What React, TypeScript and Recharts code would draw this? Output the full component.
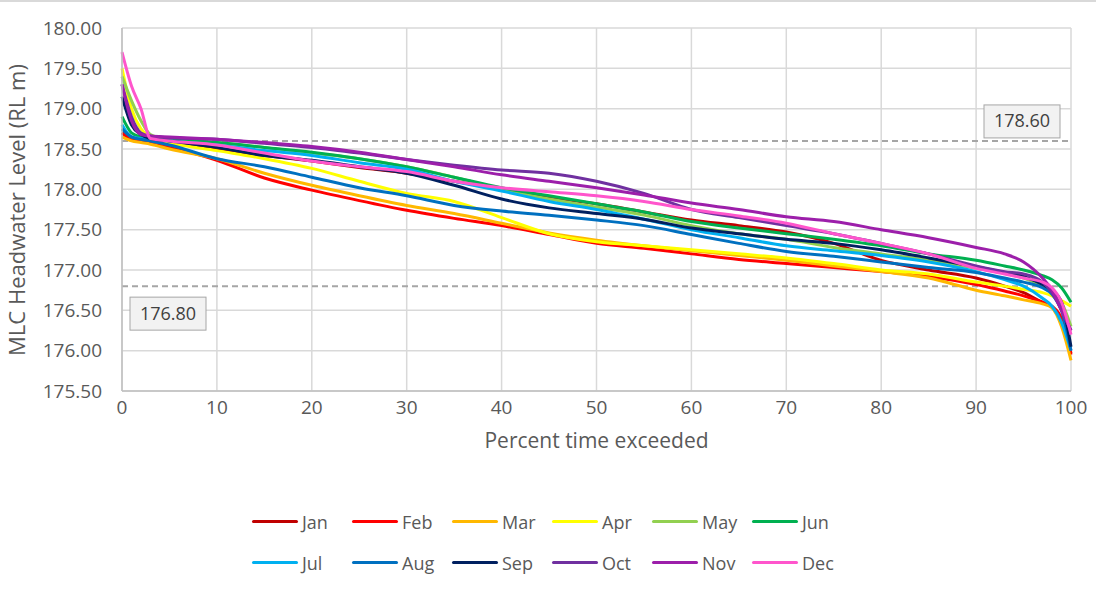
import React from "react";
import {
  LineChart,
  Line,
  XAxis,
  YAxis,
  CartesianGrid,
  ReferenceLine,
  Legend,
} from "recharts";

// percent of time exceeded (x)
const pct = [0, 1, 2, 3, 5, 10, 15, 20, 25, 30, 35, 40, 45, 50, 55, 60, 65, 70, 75, 80, 85, 90, 93, 95, 97, 98, 99, 100];

const jan = [178.7, 178.63, 178.61, 178.6, 178.57, 178.5, 178.42, 178.35, 178.27, 178.2, 178.1, 178.0, 177.9, 177.82, 177.72, 177.62, 177.55, 177.47, 177.33, 177.12, 177.0, 176.9, 176.8, 176.72, 176.6, 176.55, 176.35, 175.97];
const feb = [178.7, 178.62, 178.6, 178.57, 178.52, 178.36, 178.14, 177.99, 177.86, 177.74, 177.64, 177.55, 177.44, 177.33, 177.27, 177.2, 177.13, 177.08, 177.03, 176.98, 176.92, 176.82, 176.74, 176.68, 176.6, 176.55, 176.4, 175.95];
const mar = [178.65, 178.6, 178.58, 178.56, 178.5, 178.38, 178.2, 178.05, 177.92, 177.8, 177.7, 177.58, 177.46, 177.37, 177.3, 177.24, 177.18, 177.12, 177.05, 176.98, 176.9, 176.75, 176.68, 176.63, 176.58, 176.53, 176.3, 175.88];
const apr = [179.5, 179.0, 178.75, 178.65, 178.58, 178.48, 178.38, 178.26, 178.1, 177.95, 177.85, 177.65, 177.45, 177.35, 177.3, 177.25, 177.2, 177.15, 177.08, 177.0, 176.95, 176.85, 176.8, 176.76, 176.72, 176.68, 176.62, 176.55];
const may = [179.4, 179.1, 178.85, 178.68, 178.62, 178.58, 178.52, 178.45, 178.38, 178.28, 178.15, 178.0, 177.88, 177.78, 177.68, 177.55, 177.45, 177.38, 177.28, 177.2, 177.12, 177.02, 176.96, 176.9, 176.8, 176.72, 176.6, 176.3];
const jun = [178.9, 178.7, 178.65, 178.63, 178.62, 178.58, 178.52, 178.46, 178.38, 178.28, 178.15, 178.02, 177.92, 177.82, 177.72, 177.6, 177.52, 177.45, 177.38, 177.3, 177.2, 177.12, 177.05, 177.0, 176.93, 176.88, 176.78, 176.6];
const jul = [178.8, 178.65, 178.63, 178.62, 178.6, 178.55, 178.48, 178.42, 178.33, 178.25, 178.1, 177.98, 177.85, 177.75, 177.63, 177.5, 177.4, 177.3, 177.24, 177.18, 177.1, 176.98, 176.88, 176.8, 176.65, 176.55, 176.35, 176.0];
const aug = [178.75, 178.65, 178.62, 178.6, 178.55, 178.38, 178.28, 178.15, 178.02, 177.92, 177.8, 177.73, 177.68, 177.62, 177.55, 177.44, 177.33, 177.23, 177.17, 177.1, 177.03, 176.97, 176.9, 176.85, 176.78, 176.7, 176.5, 176.0];
const sep = [179.15, 178.8, 178.68, 178.63, 178.6, 178.52, 178.42, 178.36, 178.28, 178.2, 178.05, 177.88, 177.77, 177.7, 177.63, 177.52, 177.45, 177.38, 177.33, 177.25, 177.15, 177.04, 176.97, 176.92, 176.82, 176.75, 176.6, 176.05];
const oct = [179.3, 178.9, 178.7, 178.66, 178.64, 178.62, 178.57, 178.52, 178.45, 178.37, 178.3, 178.24, 178.2, 178.1, 177.95, 177.75, 177.65, 177.55, 177.45, 177.33, 177.2, 177.05, 176.98, 176.95, 176.85, 176.72, 176.5, 176.25];
const nov = [179.3, 178.85, 178.68, 178.66, 178.65, 178.62, 178.58, 178.53, 178.46, 178.37, 178.28, 178.18, 178.1, 178.02, 177.93, 177.83, 177.75, 177.66, 177.6, 177.5, 177.4, 177.28, 177.2, 177.1, 176.9, 176.75, 176.5, 176.25];
const dec = [179.7, 179.28, 179.0, 178.63, 178.6, 178.55, 178.45, 178.35, 178.28, 178.22, 178.1, 178.02, 177.97, 177.92, 177.85, 177.75, 177.67, 177.58, 177.45, 177.33, 177.2, 177.02, 176.95, 176.9, 176.85, 176.78, 176.6, 176.2];

const months = ["Jan", "Feb", "Mar", "Apr", "May", "Jun", "Jul", "Aug", "Sep", "Oct", "Nov", "Dec"];
const series = [jan, feb, mar, apr, may, jun, jul, aug, sep, oct, nov, dec];
const colors = ["#C00000", "#FF0000", "#FFB800", "#FFFF00", "#92D050", "#00B050", "#00B0F0", "#0070C0", "#002060", "#7030A0", "#9C1FAA", "#FF55CC"];

const yTicks = [175.5, 176, 176.5, 177, 177.5, 178, 178.5, 179, 179.5, 180];
const xTicks = [0, 10, 20, 30, 40, 50, 60, 70, 80, 90, 100];
const upperLimit = 178.6;
const lowerLimit = 176.8;

const data = pct.map((p, i) => {
  const row: any = { p };
  months.forEach((m, k) => (row[m] = series[k][i]));
  return row;
});

const FONT = "'Open Sans', sans-serif";
const TEXT = "#595959";

const BoxLabel = ({ viewBox, text, side }: any) => {
  const w = 76;
  const h = 33;
  const x = side === "right" ? viewBox.x + viewBox.width - w - 11 : viewBox.x + 8;
  const y = side === "right" ? viewBox.y - h - 3 : viewBox.y + 11;
  return (
    <g>
      <rect x={x} y={y} width={w} height={h} fill="#F2F2F2" stroke="#A6A6A6" strokeWidth={1} />
      <text x={x + w / 2} y={y + h / 2 + 6} textAnchor="middle" fontSize={18} fontFamily={FONT} fill="#404040">
        {text}
      </text>
    </g>
  );
};

const YTitle = () => (
  <text
    x={0}
    y={0}
    transform="translate(25, 210) rotate(-90)"
    textAnchor="middle"
    fontSize={22}
    fontFamily={FONT}
    fill={TEXT}
  >
    MLC Headwater Level (RL m)
  </text>
);

const LegendBox = () => (
  <div style={{ width: 600, marginLeft: 252, fontFamily: FONT, fontSize: 18, color: TEXT }}>
    {[0, 1].map((r) => (
      <div key={r} style={{ display: "flex", height: 41, alignItems: "center" }}>
        {months.slice(r * 6, r * 6 + 6).map((m, j) => (
          <div key={m} style={{ width: 100, display: "flex", alignItems: "center" }}>
            <div style={{ width: 46, height: 3, background: colors[r * 6 + j], borderRadius: 2, marginRight: 4 }} />
            <span>{m}</span>
          </div>
        ))}
      </div>
    ))}
  </div>
);

export default function App() {
  return (
    <div style={{ position: "absolute", left: 0, top: 0, width: 1096, height: 589, background: "#fff" }}>
      <div style={{ position: "absolute", left: 0, top: 0, width: 1096, height: 2, background: "#D9D9D9" }} />
      <LineChart width={1096} height={589} data={data} margin={{ top: 28, right: 25, left: 0, bottom: 118 }}>
        <CartesianGrid stroke="#D9D9D9" strokeWidth={1.5} />
        <XAxis
          dataKey="p"
          type="number"
          domain={[0, 100]}
          ticks={xTicks}
          interval={0}
          height={80}
          tick={{ fill: TEXT, fontSize: 19, fontFamily: FONT }}
          tickLine={false}
          axisLine={{ stroke: "#BFBFBF", strokeWidth: 1.5 }}
          tickMargin={4}
          label={{ value: "Percent time exceeded", position: "insideTop", offset: 42, fill: TEXT, fontSize: 21, fontFamily: FONT }}
        />
        <YAxis
          type="number"
          domain={[175.5, 180]}
          ticks={yTicks}
          interval={0}
          width={122}
          tickFormatter={(v: number) => v.toFixed(2)}
          tick={{ fill: TEXT, fontSize: 19, fontFamily: FONT }}
          tickLine={false}
          axisLine={{ stroke: "#BFBFBF", strokeWidth: 1.5 }}
          tickMargin={14}
          label={<YTitle />}
        />
        <ReferenceLine y={upperLimit} stroke="#A6A6A6" strokeWidth={2} strokeDasharray="6 4" label={(props: any) => <BoxLabel {...props} text={upperLimit.toFixed(2)} side="right" />} />
        <ReferenceLine y={lowerLimit} stroke="#A6A6A6" strokeWidth={2} strokeDasharray="6 4" label={(props: any) => <BoxLabel {...props} text={lowerLimit.toFixed(2)} side="left" />} />
        {months.map((m, k) => (
          <Line
            key={m}
            dataKey={m}
            type="monotone"
            stroke={colors[k]}
            strokeWidth={3}
            dot={false}
            isAnimationActive={false}
          />
        ))}
        <Legend
          layout="horizontal"
          verticalAlign="middle"
          align="center"
          wrapperStyle={{ top: 501, left: 0, width: 1096 }}
          content={() => <LegendBox />}
        />
      </LineChart>
    </div>
  );
}
